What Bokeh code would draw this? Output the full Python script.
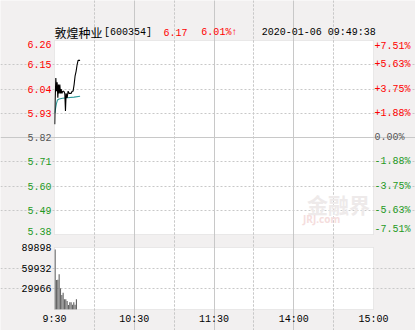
from bokeh.plotting import figure
from bokeh.models import Label, FixedTicker, Grid, Range1d, BoxAnnotation
from bokeh.embed import file_html
from bokeh.resources import INLINE

# ---------------- data ----------------
stock_name = "敦煌种业"
stock_code = "[600354]"
last_price = "6.17"
last_change = "6.01%↑"
stamp = "2020-01-06 09:49:38"
prev_close = 5.82

price_ticks = [6.26, 6.15, 6.04, 5.93, 5.82, 5.71, 5.60, 5.49, 5.38]
price_labels = ["6.26", "6.15", "6.04", "5.93", "5.82", "5.71", "5.60", "5.49", "5.38"]
pct_labels = ["+7.51%", "+5.63%", "+3.75%", "+1.88%", "0.00%",
              "-1.88%", "-3.75%", "-5.63%", "-7.51%"]
vol_ticks = [29966, 59932, 89898]
vol_labels = ["29966", "59932", "89898"]
time_ticks = [0, 60, 120, 180, 240]
time_labels = ["9:30", "10:30", "11:30", "14:00", "15:00"]

# minutes after 9:30
price_t = [0.2, 0.5, 1.0, 1.5, 2.0, 2.5, 3.0, 3.5, 4.0, 4.5, 5.0, 5.5, 6.25, 7.0,
           7.75, 8.25, 8.75, 9.5, 10.25, 11.0, 11.75, 12.5, 13.25, 14.0, 14.75,
           15.5, 16.25, 17.0, 17.75, 19.25]
price = [5.88, 5.99, 6.09, 6.03, 6.07, 6.00, 6.06, 6.02, 6.06, 6.02, 6.04, 6.02,
         6.03, 6.03, 6.02, 5.94, 6.02, 6.00, 6.03, 6.02, 6.02, 6.02, 6.03, 6.03,
         6.06, 6.10, 6.12, 6.15, 6.17, 6.17]
avg_t = [0.3, 0.75, 1.5, 2.25, 3.5, 6.0, 9.75, 14.75, 19.25]
avg_price = [5.93, 5.95, 5.975, 5.99, 5.995, 5.998, 6.0, 6.003, 6.007]

vol_t = list(range(17))
volume = [87000, 42600, 43000, 51200, 30700, 21000, 24400, 14900, 14900, 12500,
          6700, 10600, 10600, 6900, 10600, 6900, 14900]

# ---------------- style / layout ----------------
BG = "#f2f0f0"
GRID = "#c8c8c8"
BORDER = "#c4c4c4"
RED = "#ff0000"
GREEN = "#1f9a1f"
GRAY = "#555555"
MONO = "Liberation Mono"
FS = "10px"

W, H = 415, 330
LEFT, RIGHT = 54, 42
MAIN_TOP, MAIN_BOT = 40, 234
VOL_TOP, VOL_BOT = 247, 309

t0, t1 = 0, 240
ppm = (W - LEFT - RIGHT) / (t1 - t0)
y_lo, y_hi = price_ticks[-1], price_ticks[0]
ppu = (MAIN_BOT - MAIN_TOP) / (y_hi - y_lo)
v_hi = vol_ticks[-1]
ppv = (VOL_BOT - VOL_TOP) / v_hi

p = figure(width=W, height=H,
           x_range=Range1d(t0 - LEFT / ppm, t1 + RIGHT / ppm),
           y_range=Range1d(y_lo - (H - MAIN_BOT) / ppu, y_hi + MAIN_TOP / ppu),
           output_backend="svg", toolbar_location=None,
           x_axis_location=None, y_axis_location=None, min_border=0,
           background_fill_color=BG, border_fill_color=BG, outline_line_color=None)
p.extra_y_ranges = {"vol": Range1d(-(H - VOL_BOT) / ppv, v_hi + VOL_TOP / ppv)}
p.grid.visible = False

# ---- plot boxes ----
p.add_layout(BoxAnnotation(left=t0, right=t1, bottom=y_lo, top=y_hi, fill_color="white",
                           fill_alpha=1, line_color=None, level="image"))
p.add_layout(BoxAnnotation(left=t0, right=t1, bottom=0, top=v_hi, y_range_name="vol",
                           fill_color="white", fill_alpha=1, line_color=None, level="image"))

# ---- grids ----
for rname, yb in (("default", (y_lo, y_hi)), ("vol", (0, v_hi))):
    p.add_layout(Grid(dimension=0, ticker=FixedTicker(ticks=[30, 90, 150, 210]), bounds=yb,
                      y_range_name=rname, grid_line_color=GRID, grid_line_dash="2 2"))
    p.add_layout(Grid(dimension=0, ticker=FixedTicker(ticks=[60, 120, 180]), bounds=yb,
                      y_range_name=rname, grid_line_color=GRID))
p.add_layout(Grid(dimension=1, bounds=(t0, t1),
                  ticker=FixedTicker(ticks=[t for t in price_ticks[1:-1] if t != prev_close]),
                  grid_line_color=GRID, grid_line_dash="2 2"))
p.add_layout(Grid(dimension=1, ticker=FixedTicker(ticks=[prev_close]), bounds=(t0, t1),
                  grid_line_color=GRID))
p.add_layout(Grid(dimension=1, ticker=FixedTicker(ticks=vol_ticks[:-1]), bounds=(t0, t1),
                  y_range_name="vol", grid_line_color=GRID, grid_line_dash="2 2"))

# ---- watermark ----
p.add_layout(Label(x=190, y=5.52, text="金融界", text_font="Noto Sans CJK SC",
                   text_font_size="21px", text_font_style="bold", text_color="#eeeaea",
                   text_baseline="middle", text_align="left", level="underlay"))
p.add_layout(Label(x=187, y=5.45, text="JRJ.com", text_font="Noto Sans",
                   text_font_size="10px", text_font_style="bold", text_color="#f5dddd",
                   text_baseline="middle", text_align="left", level="underlay"))

# ---- series ----
p.line(avg_t, avg_price, line_color="#2e9a9a", line_width=1.1)
p.line(price_t, price, line_color="black", line_width=1.1)
p.vbar(x=[t + 0.5 for t in vol_t], top=volume, width=0.85, y_range_name="vol",
       fill_color="#666666", line_color=None)

# ---- borders ----
p.add_layout(BoxAnnotation(left=t0, right=t1, bottom=y_lo, top=y_hi,
                           fill_alpha=0, line_color=BORDER, line_width=1))
p.add_layout(BoxAnnotation(left=t0, right=t1, bottom=0, top=v_hi, y_range_name="vol",
                           fill_alpha=0, line_color=BORDER, line_width=1))

# ---- price / percent labels ----
for i, (t, lab, pct) in enumerate(zip(price_ticks, price_labels, pct_labels)):
    if t > prev_close + 1e-9:
        col = RED
    elif t < prev_close - 1e-9:
        col = GREEN
    else:
        col = GRAY
    base = "top" if i == 0 else ("bottom" if i == len(price_ticks) - 1 else "middle")
    p.add_layout(Label(x=t0, y=t, text=lab, x_offset=-3, text_align="right",
                       text_baseline=base, text_color=col, text_font=MONO,
                       text_font_size=FS))
    p.add_layout(Label(x=t1, y=t, text=pct, x_offset=1, text_align="left",
                       text_baseline=base, text_color=col, text_font=MONO,
                       text_font_size=FS))

# ---- volume labels ----
for t, lab in zip(vol_ticks, vol_labels):
    p.add_layout(Label(x=t0, y=t, text=lab, x_offset=-3, text_align="right",
                       text_baseline="middle", text_color="black", text_font=MONO,
                       text_font_size=FS, y_range_name="vol"))

# ---- time labels ----
ty_time = -10 / ppv
for t, lab in zip(time_ticks, time_labels):
    p.add_layout(Label(x=t, y=ty_time, text=lab, text_align="center",
                       text_baseline="middle", text_color="black", text_font=MONO,
                       text_font_size=FS, y_range_name="vol"))

# ---- header ----
ty = y_hi + 8.5 / ppu
p.add_layout(Label(x=0, y=ty, text=stock_name, text_font="Noto Sans CJK SC",
                   text_font_size="12px", text_color="black", text_baseline="middle"))
p.add_layout(Label(x=37.2, y=ty, text=stock_code, text_font=MONO,
                   text_font_size=FS, text_color="black", text_baseline="middle"))
p.add_layout(Label(x=82, y=ty, text=last_price, text_font=MONO,
                   text_font_size=FS, text_color=RED, text_baseline="middle"))
p.add_layout(Label(x=110.5, y=ty, text=last_change, text_font=MONO,
                   text_font_size=FS, text_color=RED, text_baseline="middle"))
p.add_layout(Label(x=156, y=ty, text=stamp, text_font=MONO,
                   text_font_size=FS, text_color="black", text_baseline="middle"))

open("out.html", "w").write(file_html(p, INLINE))
